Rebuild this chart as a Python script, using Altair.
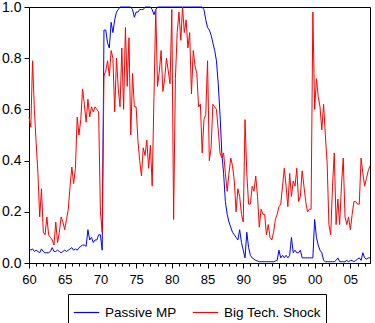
import altair as alt
import pandas as pd

# Quarterly probabilities, 1960Q1 - 2007Q4
start_year = 1960
passive_mp = [
    0.058, 0.05, 0.055, 0.045,   # 1960
    0.05, 0.045, 0.04, 0.055,    # 1961
    0.045, 0.04, 0.04, 0.04,     # 1962
    0.045, 0.06, 0.045, 0.045,   # 1963
    0.05, 0.045, 0.04, 0.045,    # 1964
    0.05, 0.045, 0.05, 0.055,    # 1965
    0.06, 0.05, 0.055, 0.05,     # 1966
    0.06, 0.065, 0.07, 0.07,     # 1967
    0.065, 0.13, 0.09, 0.10,     # 1968
    0.08, 0.09, 0.09, 0.11,      # 1969
    0.11, 0.05, 0.91, 0.91,      # 1970
    0.86, 0.84, 0.94, 0.90,      # 1971
    0.95, 0.98, 0.99, 1.0,       # 1972
    1.0, 1.0, 1.0, 1.0,          # 1973
    1.0, 1.0, 0.99, 0.96,        # 1974
    0.98, 0.98, 0.99, 0.99,      # 1975
    0.99, 1.0, 1.0, 1.0,         # 1976
    1.0, 0.99, 0.97, 0.99,       # 1977
    1.0, 1.0, 1.0, 1.0,          # 1978
    1.0, 1.0, 1.0, 1.0,          # 1979
    1.0, 1.0, 1.0, 1.0,          # 1980
    1.0, 1.0, 1.0, 1.0,          # 1981
    1.0, 1.0, 1.0, 1.0,          # 1982
    1.0, 1.0, 1.0, 1.0,          # 1983
    1.0, 1.0, 0.99, 0.95,        # 1984
    0.92, 0.91, 0.89, 0.86,      # 1985
    0.83, 0.79, 0.70, 0.58,      # 1986
    0.43, 0.35, 0.24, 0.19,      # 1987
    0.16, 0.14, 0.12, 0.11,      # 1988
    0.10, 0.09, 0.13, 0.08,      # 1989
    0.05, 0.02, 0.12, 0.06,      # 1990
    0.03, 0.02, 0.015, 0.01,     # 1991
    0.008, 0.005, 0.005, 0.005,  # 1992
    0.005, 0.005, 0.005, 0.005,  # 1993
    0.005, 0.005, 0.008, 0.01,   # 1994
    0.05, 0.02, 0.03, 0.02,      # 1995
    0.03, 0.02, 0.03, 0.10,      # 1996
    0.04, 0.05, 0.04, 0.04,      # 1997
    0.05, 0.02, 0.02, 0.02,      # 1998
    0.02, 0.02, 0.02, 0.02,      # 1999
    0.17, 0.10, 0.07, 0.05,      # 2000
    0.04, 0.01, 0.005, 0.005,    # 2001
    0.005, 0.005, 0.005, 0.005,  # 2002
    0.01, 0.02, 0.005, 0.005,    # 2003
    0.005, 0.005, 0.01, 0.005,   # 2004
    0.01, 0.01, 0.005, 0.01,     # 2005
    0.015, 0.02, 0.01, 0.04,     # 2006
    0.02, 0.015, 0.02, 0.02,     # 2007
]
big_tech_shock = [
    0.57, 0.53, 0.79, 0.60,   # 1960
    0.47, 0.35, 0.18, 0.29,   # 1961
    0.12, 0.11, 0.18, 0.11,   # 1962
    0.10, 0.09, 0.07, 0.16,   # 1963
    0.08, 0.12, 0.18, 0.16,   # 1964
    0.13, 0.17, 0.21, 0.30,   # 1965
    0.375, 0.31, 0.37, 0.57,  # 1966
    0.50, 0.56, 0.68, 0.62,   # 1967
    0.55, 0.64, 0.57, 0.61,   # 1968
    0.59, 0.61, 0.60, 0.59,   # 1969
    0.20, 0.12, 0.73, 0.75,   # 1970
    0.79, 0.73, 0.83, 0.80,   # 1971
    0.59, 0.80, 0.68, 0.61,   # 1972
    0.84, 0.60, 0.92, 0.69,   # 1973
    0.88, 0.50, 0.74, 0.61,   # 1974
    0.61, 0.48, 0.40, 0.34,   # 1975
    0.45, 0.42, 0.48, 0.37,   # 1976
    0.46, 0.30, 0.65, 0.99,   # 1977
    0.69, 0.75, 0.83, 0.67,   # 1978
    0.72, 0.80, 0.75, 0.70,   # 1979
    0.99, 0.17, 0.72, 0.90,   # 1980
    0.98, 0.87, 1.0, 0.90,    # 1981
    0.95, 0.84, 0.90, 0.66,   # 1982
    0.83, 0.77, 0.74, 0.61,   # 1983
    0.62, 0.43, 0.56, 0.58,   # 1984
    0.79, 0.40, 0.45, 0.62,   # 1985
    0.61, 0.60, 0.52, 0.43,   # 1986
    0.41, 0.43, 0.35, 0.28,   # 1987
    0.35, 0.41, 0.38, 0.32,   # 1988
    0.20, 0.29, 0.26, 0.19,   # 1989
    0.16, 0.56, 0.35, 0.23,   # 1990
    0.23, 0.30, 0.28, 0.34,   # 1991
    0.26, 0.14, 0.21, 0.19,   # 1992
    0.19, 0.11, 0.15, 0.10,   # 1993
    0.09, 0.12, 0.17, 0.19,   # 1994
    0.22, 0.23, 0.30, 0.37,   # 1995
    0.30, 0.22, 0.35, 0.26,   # 1996
    0.32, 0.30, 0.37, 0.24,   # 1997
    0.26, 0.36, 0.30, 0.24,   # 1998
    0.20, 0.21, 0.21, 0.98,   # 1999
    0.60, 0.72, 0.65, 0.61,   # 2000
    0.52, 0.62, 0.50, 0.39,   # 2001
    0.15, 0.11, 0.30, 0.43,   # 2002
    0.15, 0.25, 0.15, 0.30,   # 2003
    0.41, 0.18, 0.15, 0.18,   # 2004
    0.13, 0.19, 0.24, 0.24,   # 2005
    0.23, 0.23, 0.41, 0.35,   # 2006
    0.30, 0.33, 0.36, 0.38,   # 2007
]
series_names = ["Passive MP", "Big Tech. Shock"]
series_colors = ["#0000FF", "#FF0000"]
major_years = list(range(1960, 2006, 5))
minor_years = list(range(1960, 2008))

rows = []
for name, vals in zip(series_names, [passive_mp, big_tech_shock]):
    for i, v in enumerate(vals):
        rows.append({"date": start_year + i / 4, "value": v, "series": name})
df = pd.DataFrame(rows)

FONT = "Liberation Sans"
x_scale = alt.Scale(domain=[1960, 2007.75], nice=False, zero=False)

lines = alt.Chart(df).mark_line(strokeWidth=1).encode(
    x=alt.X("date:Q", scale=x_scale, title=None,
            axis=alt.Axis(values=major_years, tickSize=5, grid=False, labelFlush=False,
                          labelExpr="(datum.value % 100 < 10 ? '0' : '') + (datum.value % 100)",
                          labelFontSize=13, labelFont=FONT, labelColor="black",
                          labelPadding=5, domainColor="black", tickColor="black",
                          orient="bottom")),
    y=alt.Y("value:Q", scale=alt.Scale(domain=[0, 1], nice=False), title=None,
            axis=alt.Axis(values=[0, 0.2, 0.4, 0.6, 0.8, 1.0], format=".1f",
                          tickSize=5, grid=False, labelFlush=False, labelFontSize=14,
                          labelFont=FONT, labelColor="black", labelPadding=3,
                          domainColor="black", tickColor="black")),
    color=alt.Color("series:N", sort=series_names,
                    scale=alt.Scale(domain=series_names, range=series_colors),
                    legend=alt.Legend(title=None, orient="none", direction="horizontal",
                                      legendX=39, legendY=287, symbolType="stroke",
                                      symbolSize=650, symbolStrokeWidth=1.2,
                                      labelFontSize=13.5, labelFont=FONT, labelColor="black",
                                      labelOffset=5, columnPadding=13, padding=5,
                                      gridAlign="none",
                                      strokeColor="black", fillColor="white")),
)

# yearly minor ticks along the bottom axis
minor = alt.Chart(pd.DataFrame({"date": minor_years})).mark_point(opacity=0).encode(
    x=alt.X("date:Q", scale=x_scale, title=None,
            axis=alt.Axis(values=minor_years, tickSize=3, labels=False, grid=False,
                          domain=False, tickColor="black", orient="bottom")),
)

chart = alt.layer(lines, minor).resolve_axis(x="independent").properties(
    width=341, height=256,
    autosize=alt.AutoSizeParams(type="none"),
    padding={"left": 29, "top": 7, "right": 5, "bottom": 60},
).configure_view(stroke="black", strokeWidth=1)

chart.save("out.html", embed_options={"renderer": "svg", "actions": False})
